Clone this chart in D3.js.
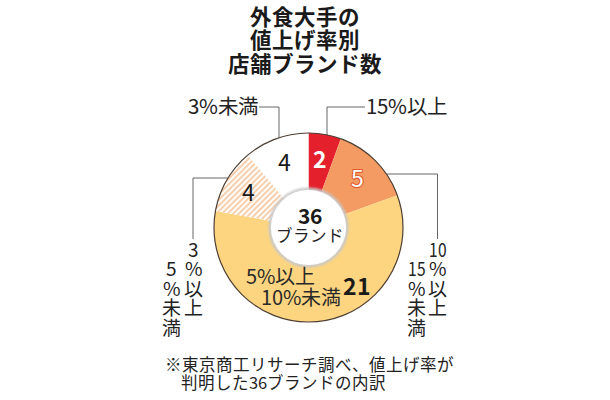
<!DOCTYPE html>
<html><head><meta charset="utf-8">
<script src="https://cdn.jsdelivr.net/npm/d3@7"></script>
<style>
@font-face{font-family:"JPT";font-weight:400;
  src:local("Noto Sans CJK JP Regular"),local("NotoSansCJKjp-Regular"),local("Noto Sans CJK JP");
  ascent-override:88%;descent-override:12%;line-gap-override:0%;}
@font-face{font-family:"JPT";font-weight:700;
  src:local("Noto Sans CJK JP Bold"),local("NotoSansCJKjp-Bold");
  ascent-override:88%;descent-override:12%;line-gap-override:0%;}
html,body{margin:0;padding:0;background:#fff;}
svg{display:block;}
text{font-family:"JPT","Noto Sans CJK JP","Noto Sans",sans-serif;}
</style></head>
<body>
<svg id="c" width="610" height="400"></svg>
<script>
// ---- data ----
const titleLines = ["外食大手の", "値上げ率別", "店舗ブランド数"];
const categories = ["15%以上", "10%以上15%未満", "5%以上10%未満", "3%以上5%未満", "3%未満"];
const values = [2, 5, 21, 4, 4];
const centerUnit = "ブランド";
const noteLines = ["※東京商工リサーチ調べ、値上げ率が", "判明した36ブランドの内訳"];

// ---- layout ----
const cx = 308.5, cy = 227.5, R = 94.5, R0 = 38;
const svg = d3.select("#c");

function stext(parent, x, y, txt, o) {
  return parent.append("text").attr("x", x).attr("y", y).attr("dy", "0.36em")
    .attr("text-anchor", o.anchor || "middle").attr("font-size", o.fs)
    .attr("font-weight", o.weight || "normal").attr("fill", o.color || "#222").text(txt);
}

const defs = svg.append("defs");
const pat = defs.append("pattern").attr("id", "hatch").attr("patternUnits", "userSpaceOnUse")
  .attr("width", 4).attr("height", 4).attr("patternTransform", "rotate(45)");
pat.append("rect").attr("width", 4).attr("height", 4).attr("fill", "#fff");
pat.append("rect").attr("width", 2.1).attr("height", 4).attr("fill", "#f8cfae");
const blur = defs.append("filter").attr("id", "blur").attr("x", "-20%").attr("y", "-20%").attr("width", "140%").attr("height", "140%");
blur.append("feGaussianBlur").attr("stdDeviation", 1.3);

const color = d3.scaleOrdinal().domain(categories)
  .range(["#e3202b", "#f39b62", "#fdd580", "url(#hatch)", "#ffffff"]);

// title
titleLines.forEach((t, i) => stext(svg, 305, 17 + i * 23.5, t, { fs: 21.5, weight: "bold", color: "#1a1a1a" }));

const pie = d3.pie().sort(null).value(d => d.v).startAngle(0).endAngle(2 * Math.PI);
const arcs = pie(categories.map((c, i) => ({ c, v: values[i] })));
const arc = d3.arc().innerRadius(R0).outerRadius(R);

// connector lines
const conn = svg.append("g").attr("fill", "none").attr("stroke", "#666").attr("stroke-width", 1);
function ringYAtX(x) { return cy - Math.sqrt(R * R - (x - cx) * (x - cx)); }
function ringXAtY(y, side) { return cx + side * Math.sqrt(R * R - (y - cy) * (y - cy)); }
function splitName(name) { const k = name.indexOf("以上") + 2; return [name.slice(0, k), name.slice(k)]; }

const topY = 107;
const topCfg = [
  { i: 0, vx: 327, tx: 366, anchor: "start" },
  { i: 4, vx: 279, tx: 258, anchor: "end" }
];
topCfg.forEach(t => {
  conn.append("path").attr("d", d3.line()([[t.vx, ringYAtX(t.vx) + 2], [t.vx, topY], [t.anchor === "start" ? t.tx - 1 : t.tx + 1, topY]]));
  stext(svg, t.tx, topY, categories[t.i], { fs: 20.5, anchor: t.anchor });
});

// side vertical labels (two columns, one token per row)
const sideCfg = [
  { i: 1, hy: 174, side: 1, cols: [437.5, 416.5] },
  { i: 3, hy: 178, side: -1, cols: [193, 171] }
];
const rowStart = 250, rowStep = 19.5;
sideCfg.forEach(s => {
  const x0 = ringXAtY(s.hy, s.side) - s.side * 2;
  conn.append("path").attr("d", d3.line()([[x0, s.hy], [s.cols[0], s.hy], [s.cols[0], rowStart - 11]]));
  splitName(categories[s.i]).forEach((p, pi) => {
    p.match(/\d+|./g).forEach((tok, j) => {
      const x = s.cols[pi], y = rowStart + (j + pi) * rowStep;
      if (/^\d\d$/.test(tok)) {
        // two digits set side by side in one cell (condensed)
        stext(svg, 0, 0, tok, { fs: 19 }).attr("transform", `translate(${x},${y}) scale(0.82,1)`);
      } else {
        stext(svg, x, y, tok, { fs: 19 });
      }
    });
  });
});

// donut
const g = svg.append("g").attr("transform", `translate(${cx},${cy})`);
g.selectAll("path.s").data(arcs).join("path").attr("class", "s")
  .attr("d", arc).attr("fill", d => color(d.data.c));
g.append("circle").attr("r", R).attr("fill", "none").attr("stroke", "#4e3f33").attr("stroke-width", 1.2);
g.append("circle").attr("r", R0 + 0.5).attr("fill", "none").attr("stroke", "#c8c8c8").attr("stroke-width", 3).attr("filter", "url(#blur)");
g.append("circle").attr("r", R0 - 0.5).attr("fill", "#fff");

// slice value labels
const labR = 69;
const numStyle = [
  { fill: "#fff", stroke: "none", weight: "bold" },
  { fill: "#fff", stroke: "#e05a2c", weight: "normal" },
  { fill: "#1a1a1a", stroke: "none", weight: "bold" },
  { fill: "#1a1a1a", stroke: "none", weight: "normal" },
  { fill: "#1a1a1a", stroke: "none", weight: "normal" }
];
arcs.forEach((a, i) => {
  let x, y;
  if (i === 2) { x = 48.5; y = 59.5; }
  else {
    const m = (a.startAngle + a.endAngle) / 2;
    x = labR * Math.sin(m); y = -labR * Math.cos(m);
  }
  const t = stext(g, x, y, a.data.v, { fs: 23, weight: numStyle[i].weight, color: numStyle[i].fill });
  if (numStyle[i].stroke !== "none") {
    t.attr("stroke", numStyle[i].stroke).attr("stroke-width", 2.2).attr("paint-order", "stroke")
      .attr("stroke-linejoin", "round");
  }
});

// category name inside the large slice
splitName(categories[2]).forEach((p, i) =>
  stext(svg, i === 0 ? 280 : 301, i === 0 ? 277 : 298, p, { fs: 20, color: "#2a2a2a" }));

// centre total
stext(svg, cx + 1.5, 216.5, String(d3.sum(values)), { fs: 21, weight: "bold", color: "#1a1a1a" });
stext(svg, cx + 1.5, 236, centerUnit, { fs: 16.5 });

// footnote
noteLines.forEach((t, i) => stext(svg, i === 0 ? 165 : 181, 365 + i * 18.5, t, { fs: 16.5, anchor: "start" }));
</script>
</body></html>
